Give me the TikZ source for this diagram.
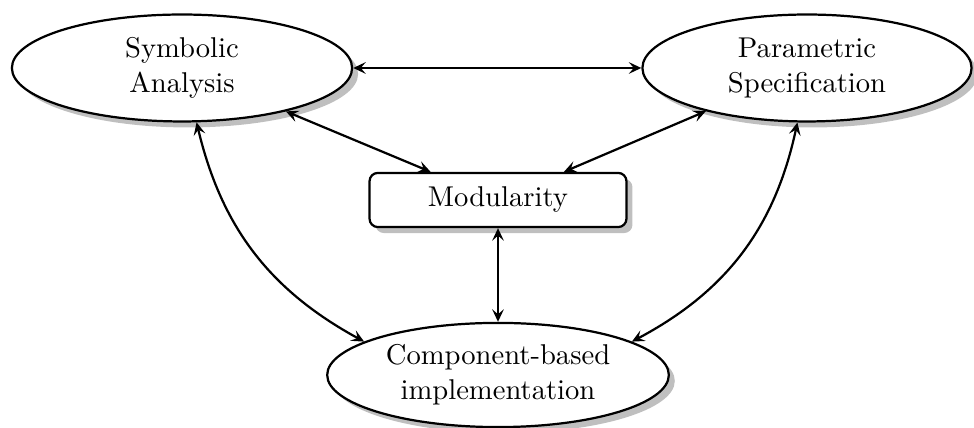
\documentclass[tikz,border=0pt]{standalone}
\usetikzlibrary{shapes.geometric,shadows,arrows.meta}

\tikzset{
  every node/.style={font=\fontsize{10.3}{12.5}\selectfont},
  topic/.style={ellipse, draw, thick, fill=white, drop shadow, align=center,
    inner sep=0pt, minimum height=38.5pt},
  hub/.style={rectangle, rounded corners=3pt, draw, thick, fill=white,
    drop shadow, minimum width=92.5pt, minimum height=19.5pt, inner sep=0pt},
  link/.style={thick, {Stealth[length=4.5pt,width=4.2pt,inset=1.8pt]}-{Stealth[length=4.5pt,width=4.2pt,inset=1.8pt]}}
}

\begin{document}
\begin{tikzpicture}[x=0.36pt, y=-0.36pt]
  \useasboundingbox (0,0) rectangle (974,428);

  % the four concepts
  \node[topic, minimum width=122.5pt] (sym) at (182,68) {Symbolic\\Analysis};
  \node[topic, minimum width=118.5pt] (par) at (807,68) {Parametric\\Specification};
  \node[hub] (mod) at (498,200) {Modularity};
  \node[topic, minimum width=123pt, minimum height=37.5pt] (comp) at (498,375)
    {Component-based\\implementation};

  % straight links
  \draw[link] (sym) -- (par);
  \draw[link] (sym) -- (mod);
  \draw[link] (par) -- (mod);
  \draw[link] (mod) -- (comp);

  % curved links round the sides
  \draw[link] (sym.-75) to[bend right=24] (comp.166);
  \draw[link] (par.-100) to[bend left=25] (comp.14);
\end{tikzpicture}
\end{document}
